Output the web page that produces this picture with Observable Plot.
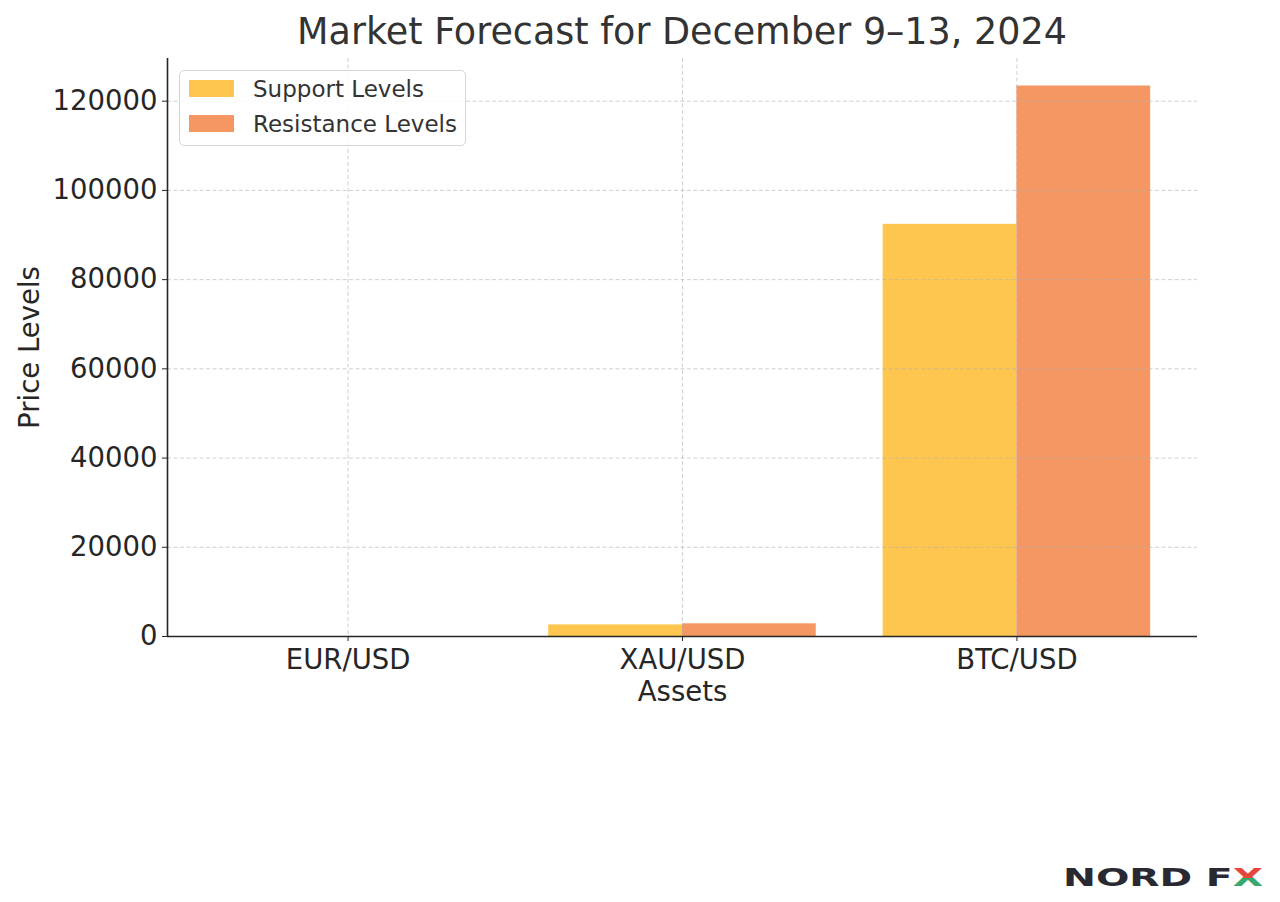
<!DOCTYPE html>
<html>
<head>
<meta charset="utf-8">
<script src="https://cdn.jsdelivr.net/npm/d3@7"></script>
<script src="https://cdn.jsdelivr.net/npm/@observablehq/plot@0.6"></script>
<style>
  html, body { margin: 0; padding: 0; background: #fff; }
  #wrap { position: relative; width: 1280px; height: 902px; overflow: hidden; font-family: "DejaVu Sans", sans-serif; }
  #title { position: absolute; left: 282px; width: 800px; top: 10px; text-align: center; font-size: 36.5px; color: #333; white-space: nowrap; }
  #legend { position: absolute; left: 179px; top: 70px; width: 285px; height: 74px; border: 1.5px solid #d6d6d6; border-radius: 5px; background: rgba(255,255,255,0.85); }
  .lg { position: absolute; left: 9px; width: 45px; height: 17px; }
  .lt { position: absolute; left: 73px; font-size: 23px; color: #333; white-space: nowrap; line-height: 23px; }
  #logo { position: absolute; left: 1060px; top: 862px; }
</style>
</head>
<body>
<div id="wrap">
  <div id="chart"></div>
  <div id="title">Market Forecast for December 9–13, 2024</div>
  <div id="legend">
    <div class="lg" style="top:9px;background:#FEC64F"></div>
    <div class="lt" style="top:7px">Support Levels</div>
    <div class="lg" style="top:44px;background:#F59762"></div>
    <div class="lt" style="top:42px">Resistance Levels</div>
  </div>
  <svg id="logo" width="210" height="30">
    <defs>
      <linearGradient id="xg" x1="0" y1="0" x2="0" y2="1">
        <stop offset="0" stop-color="#e5473d"/>
        <stop offset="0.5" stop-color="#e5473d"/>
        <stop offset="0.5" stop-color="#3aa86e"/>
        <stop offset="1" stop-color="#3aa86e"/>
      </linearGradient>
    </defs>
    <text x="3" y="24" font-family="DejaVu Sans" font-weight="bold" font-size="24" fill="#2a2830" textLength="200" lengthAdjust="spacingAndGlyphs">NORD F<tspan fill="url(#xg)">X</tspan></text>
  </svg>
</div>
<script>
const assets = ["EUR/USD", "XAU/USD", "BTC/USD"];
const seriesNames = ["Support Levels", "Resistance Levels"];
const support = [1.04, 2600, 92400];
const resistance = [1.07, 2850, 123400];
const yTicks = [0, 20000, 40000, 60000, 80000, 100000, 120000];
const colors = ["#FEC64F", "#F59762"];

const barW = 0.4;
const rows = [];
assets.forEach((a, i) => {
  rows.push({i, asset: a, series: seriesNames[0], value: support[i], x1: i - barW, x2: i});
  rows.push({i, asset: a, series: seriesNames[1], value: resistance[i], x1: i, x2: i + barW});
});
const yMax = d3.max(rows, d => d.value) * 1.05;
const xDom = [-barW - 0.14, assets.length - 1 + barW + 0.14];

const chart = Plot.plot({
  width: 1280,
  height: 902,
  marginLeft: 167,
  marginRight: 83,
  marginTop: 58,
  marginBottom: 266,
  style: {fontFamily: "DejaVu Sans", background: "white", color: "#262626"},
  x: {type: "linear", domain: xDom, label: null},
  y: {domain: [0, yMax], label: null},
  color: {domain: seriesNames, range: colors},
  marks: [
    Plot.rect(rows, {x1: "x1", x2: "x2", y1: 0, y2: "value", fill: "series"}),
    Plot.gridX(d3.range(assets.length), {stroke: "#b0b0b0", strokeOpacity: 0.6, strokeDasharray: "4,2.5", strokeWidth: 1}),
    Plot.gridY(yTicks, {stroke: "#b0b0b0", strokeOpacity: 0.6, strokeDasharray: "4,2.5", strokeWidth: 1}),
    Plot.axisY(yTicks, {tickSize: 5, tickPadding: 5, fontSize: 27.5, tickFormat: d => String(d), stroke: "#262626", fill: "#262626", label: null}),
    Plot.axisX(d3.range(assets.length), {tickSize: 5, tickPadding: 8, fontSize: 27.5, tickFormat: i => assets[i], stroke: "#262626", fill: "#262626", label: null}),
    Plot.ruleX([xDom[0]], {stroke: "#262626", strokeWidth: 1.6}),
    Plot.ruleY([0], {stroke: "#262626", strokeWidth: 1.6}),
    Plot.text(["Assets"], {frameAnchor: "bottom", dy: 64, fontSize: 27.5, fill: "#262626"}),
    Plot.text(["Price Levels"], {frameAnchor: "left", textAnchor: "middle", dx: -137, rotate: -90, fontSize: 27.5, fill: "#262626"})
  ]
});
document.getElementById("chart").appendChild(chart);
</script>
</body>
</html>
